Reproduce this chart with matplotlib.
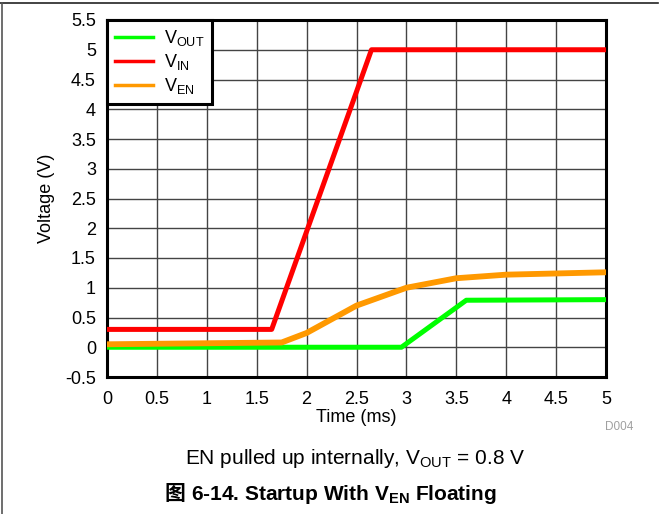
import matplotlib
matplotlib.use("Agg")
import matplotlib.pyplot as plt
from matplotlib.lines import Line2D

plt.rcParams["font.family"] = ["Liberation Sans", "Noto Sans CJK SC", "DejaVu Sans"]
plt.rcParams["mathtext.fontset"] = "custom"
plt.rcParams["mathtext.rm"] = "Liberation Sans"
plt.rcParams["mathtext.it"] = "Liberation Sans"
plt.rcParams["mathtext.bf"] = "Liberation Sans:bold"

# breakpoints (time in ms, volts)
t_vin = [0.0, 1.65, 2.65, 5.0]
v_vin = [0.30, 0.30, 5.0, 5.0]

t_ven = [0.0, 1.75, 2.0, 2.5, 3.0, 3.5, 4.0, 5.0]
v_ven = [0.05, 0.08, 0.24, 0.70, 1.00, 1.16, 1.22, 1.26]

t_vout = [0.0, 2.95, 3.6, 5.0]
v_vout = [0.0, 0.0, 0.79, 0.80]

x_ticks = [0, 0.5, 1, 1.5, 2, 2.5, 3, 3.5, 4, 4.5, 5]
y_ticks = [-0.5, 0, 0.5, 1, 1.5, 2, 2.5, 3, 3.5, 4, 4.5, 5, 5.5]

W, H = 664, 514
fig = plt.figure(figsize=(W / 100, H / 100), dpi=100)
ax = fig.add_axes([107 / W, 1 - 377 / H, (606 - 107) / W, (377 - 20) / H])

ax.plot(t_vout, v_vout, color="#00ff00", lw=3.6, label=r"V$_{\mathrm{OUT}}$", zorder=3)
ax.plot(t_vin, v_vin, color="#ff0000", lw=3.6, label=r"V$_{\mathrm{IN}}$", zorder=3)
ax.plot(t_ven, v_ven, color="#ff9900", lw=4.2, label=r"V$_{\mathrm{EN}}$", zorder=3)

ax.set_xlim(0, 5)
ax.set_ylim(-0.5, 5.5)
ax.set_xticks(x_ticks)
ax.set_xticklabels([f"{v:g}" for v in x_ticks])
ax.set_yticks(y_ticks)
ax.set_yticklabels([f"{v:g}" for v in y_ticks])
ax.tick_params(axis="x", length=0, labelsize=13, pad=10)
ax.tick_params(axis="y", length=0, labelsize=13, pad=8)
ax.grid(True, color="#444444", lw=1.0)
for s in ax.spines.values():
    s.set_linewidth(2.2)

ax.set_xlabel("Time (ms)", fontsize=13, labelpad=1)
ax.set_ylabel("Voltage (V)", fontsize=13, labelpad=7)

leg = ax.legend(loc="upper left", fontsize=13, borderaxespad=0.0, fancybox=False,
                framealpha=1, edgecolor="black", handlelength=2.1, handletextpad=0.6,
                labelspacing=0.22, borderpad=0.45)
leg.get_frame().set_linewidth(2.2)
for h in leg.get_lines():
    h.set_linewidth(2.5)

fig.text(633 / W, 1 - 427 / H, "D004", ha="right", va="center", fontsize=8.5, color="#a0a0a0")
fig.text(355 / W, 1 - 459 / H, r"EN pulled up internally, V$_{\mathrm{OUT}}$ = 0.8 V",
         ha="center", va="center", fontsize=15)

# caption: CJK glyph as its own text, the rest placed right after it
cap_y = 1 - 494 / H
t1 = fig.text(0, cap_y, "图 ", ha="left", va="center", fontsize=15,
              fontweight="bold", family=["Noto Sans CJK SC"])
t2 = fig.text(0, cap_y, r"6-14. Startup With $\mathbf{V_{EN}}$ Floating", ha="left",
              va="center", fontsize=15, fontweight="bold")
fig.canvas.draw()
r = fig.canvas.get_renderer()
w1 = t1.get_window_extent(r).width
w2 = t2.get_window_extent(r).width
x0 = 331 - (w1 + w2) / 2
t1.set_x(x0 / W)
t2.set_x((x0 + w1) / W)

# page frame lines (top and left)
fig.add_artist(Line2D([0, 658 / W], [1 - 3 / H, 1 - 3 / H], color="#222222", lw=1.2))
fig.add_artist(Line2D([2 / W, 2 / W], [0, 1 - 3 / H], color="#555555", lw=1.2))

fig.savefig("out.png", dpi=100)
